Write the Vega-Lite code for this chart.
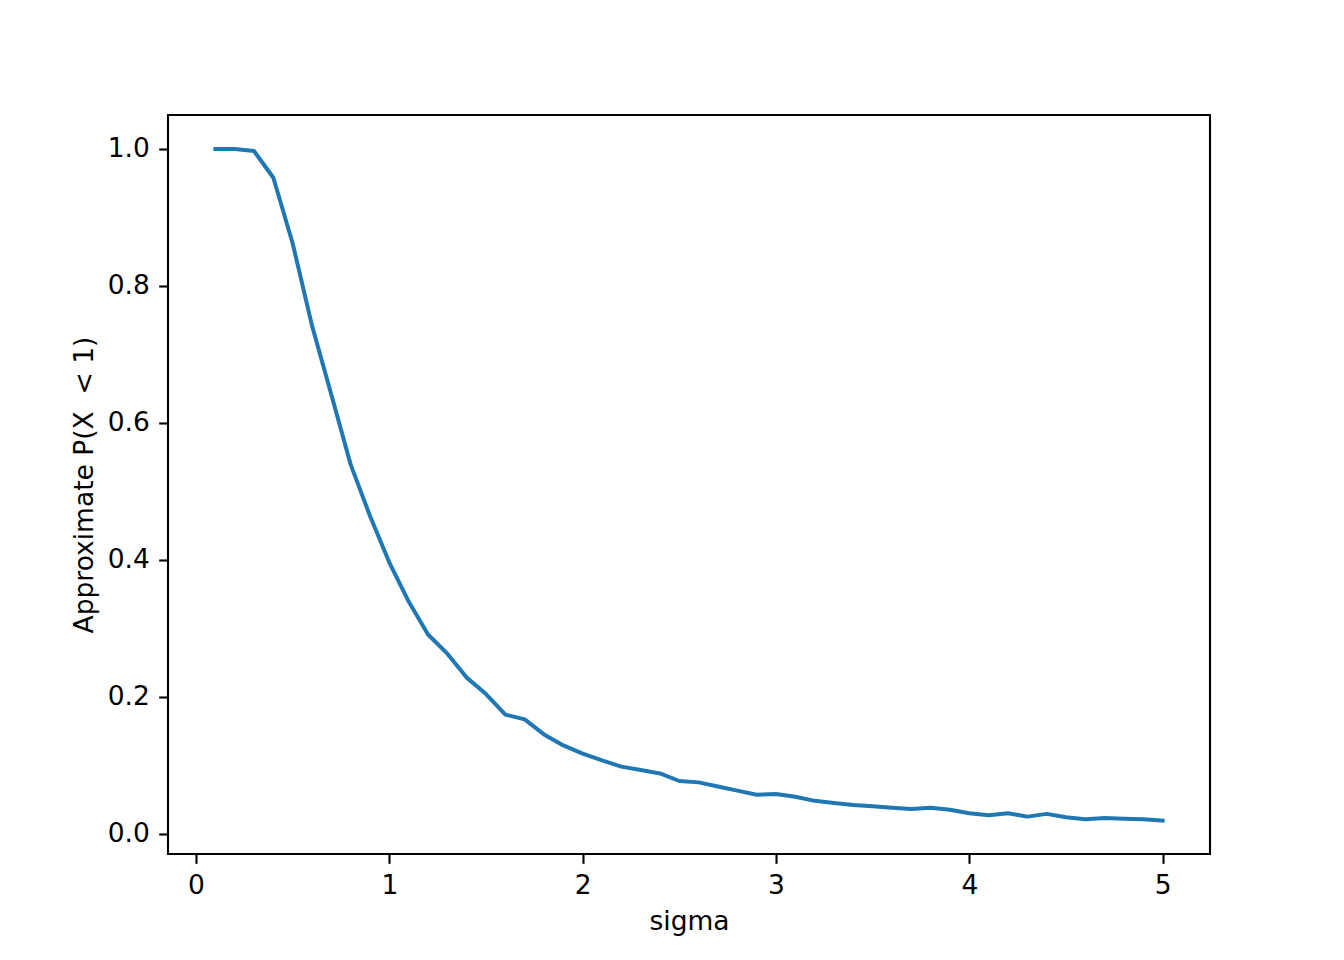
{
  "$schema": "https://vega.github.io/schema/vega-lite/v6.json",
  "width": 1042,
  "height": 739,
  "autosize": {"type": "none"},
  "padding": {"left": 168, "top": 115, "right": 134, "bottom": 106},
  "background": "white",
  "config": {
    "view": {"stroke": "black", "strokeWidth": 2.1},
    "font": "DejaVu Sans",
    "axis": {
      "grid": false,
      "domain": false,
      "ticks": true,
      "tickColor": "black",
      "tickWidth": 2.1,
      "tickSize": 9.3,
      "labelPadding": 9.3,
      "labelFont": "DejaVu Sans",
      "labelFontSize": 26.5,
      "labelColor": "black",
      "titleFont": "DejaVu Sans",
      "titleFontSize": 26.5,
      "titleFontWeight": "normal",
      "titleColor": "black",
      "labelFlush": false,
      "labelOverlap": false
    }
  },
  "data": {
    "values": [
      {"sigma": 0.1, "p": 1.0},
      {"sigma": 0.2, "p": 1.0},
      {"sigma": 0.3, "p": 0.997},
      {"sigma": 0.4, "p": 0.958},
      {"sigma": 0.5, "p": 0.862},
      {"sigma": 0.6, "p": 0.742},
      {"sigma": 0.7, "p": 0.641},
      {"sigma": 0.8, "p": 0.539},
      {"sigma": 0.9, "p": 0.464},
      {"sigma": 1.0, "p": 0.396},
      {"sigma": 1.1, "p": 0.339},
      {"sigma": 1.2, "p": 0.291},
      {"sigma": 1.3, "p": 0.263},
      {"sigma": 1.4, "p": 0.228},
      {"sigma": 1.5, "p": 0.204},
      {"sigma": 1.6, "p": 0.174},
      {"sigma": 1.7, "p": 0.167},
      {"sigma": 1.8, "p": 0.145},
      {"sigma": 1.9, "p": 0.129},
      {"sigma": 2.0, "p": 0.117},
      {"sigma": 2.1, "p": 0.107},
      {"sigma": 2.2, "p": 0.098},
      {"sigma": 2.3, "p": 0.093},
      {"sigma": 2.4, "p": 0.088},
      {"sigma": 2.5, "p": 0.077},
      {"sigma": 2.6, "p": 0.075},
      {"sigma": 2.7, "p": 0.069},
      {"sigma": 2.8, "p": 0.063},
      {"sigma": 2.9, "p": 0.057},
      {"sigma": 3.0, "p": 0.058},
      {"sigma": 3.1, "p": 0.054},
      {"sigma": 3.2, "p": 0.048},
      {"sigma": 3.3, "p": 0.045},
      {"sigma": 3.4, "p": 0.042},
      {"sigma": 3.5, "p": 0.040},
      {"sigma": 3.6, "p": 0.038},
      {"sigma": 3.7, "p": 0.036},
      {"sigma": 3.8, "p": 0.038},
      {"sigma": 3.9, "p": 0.035},
      {"sigma": 4.0, "p": 0.030},
      {"sigma": 4.1, "p": 0.027},
      {"sigma": 4.2, "p": 0.030},
      {"sigma": 4.3, "p": 0.025},
      {"sigma": 4.4, "p": 0.029},
      {"sigma": 4.5, "p": 0.024},
      {"sigma": 4.6, "p": 0.021},
      {"sigma": 4.7, "p": 0.023},
      {"sigma": 4.8, "p": 0.022},
      {"sigma": 4.9, "p": 0.021},
      {"sigma": 5.0, "p": 0.019}
    ]
  },
  "mark": {
    "type": "line",
    "color": "#1f77b4",
    "strokeWidth": 4,
    "strokeCap": "square",
    "strokeJoin": "round",
    "clip": true
  },
  "encoding": {
    "x": {
      "field": "sigma",
      "type": "quantitative",
      "scale": {"domain": [-0.145, 5.245], "nice": false, "zero": false},
      "axis": {
        "title": "sigma",
        "values": [0, 1, 2, 3, 4, 5],
        "format": "d",
        "titleY": 75,
        "titleBaseline": "alphabetic"
      }
    },
    "y": {
      "field": "p",
      "type": "quantitative",
      "scale": {"domain": [-0.0296, 1.0496], "nice": false, "zero": false},
      "axis": {
        "title": "Approximate P(X\u00a0 < 1)",
        "values": [0, 0.2, 0.4, 0.6, 0.8, 1.0],
        "format": ".1f",
        "titleX": -75.5,
        "titleY": 369.5,
        "titleAngle": 270,
        "titleAlign": "center",
        "titleBaseline": "alphabetic"
      }
    }
  }
}
